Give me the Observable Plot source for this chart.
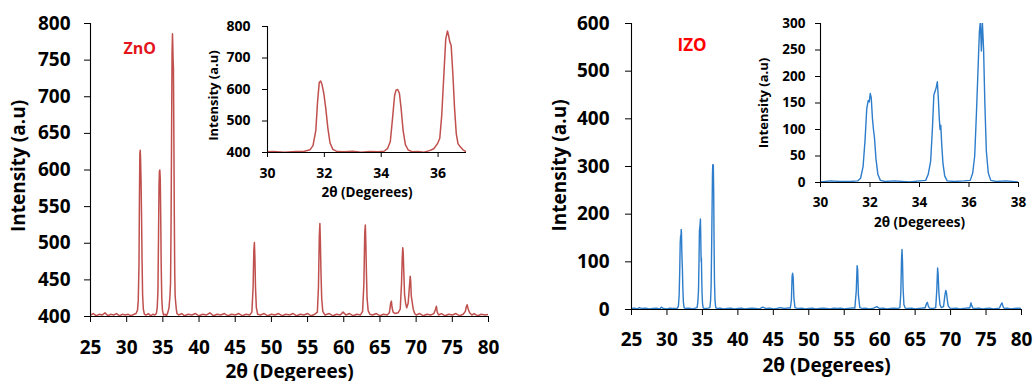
<!DOCTYPE html>
<html><head><meta charset="utf-8">
<script src="https://cdn.jsdelivr.net/npm/d3@7"></script>
<script src="https://cdn.jsdelivr.net/npm/@observablehq/plot@0.6"></script>
<style>
body{margin:0;background:#fff;}
#wrap{position:relative;width:1035px;height:381px;overflow:hidden;background:#fff;}
.panel{position:absolute;top:0;}
</style></head><body><div id="wrap"></div>
<script>
// ---- data: [2θ (deg), intensity (a.u.)] ----
const znoPattern = [[25,402],[25.4,404],[25.8,401],[26.2,403],[26.6,402],[27,405],[27.4,401],[27.8,403],[28.2,402],[28.6,404],[29,401],[29.4,403],[29.8,402],[30.2,403],[30.6,401],[31,403],[31.3,404],[31.5,409],[31.6,422],[31.7,470],[31.76,560],[31.82,622],[31.87,627],[31.92,615],[31.98,588],[32.05,540],[32.12,480],[32.2,430],[32.3,410],[32.45,403],[32.7,402],[33,404],[33.3,401],[33.6,403],[33.9,402],[34.1,404],[34.22,412],[34.32,435],[34.4,510],[34.47,580],[34.52,598],[34.58,600],[34.64,588],[34.7,540],[34.77,470],[34.85,425],[34.95,408],[35.1,402],[35.3,403],[35.5,401],[35.7,406],[35.85,412],[35.98,428],[36.06,445],[36.13,520],[36.2,640],[36.27,760],[36.33,786],[36.37,772],[36.41,752],[36.46,740],[36.52,650],[36.58,540],[36.64,460],[36.7,428],[36.78,418],[36.86,410],[36.95,404],[37.2,402],[37.6,404],[38,401],[38.5,403],[39,402],[39.5,404],[40,401],[40.5,403],[41,402],[41.5,405],[42,401],[42.5,403],[43,402],[43.5,404],[44,401],[44.5,403],[45,402],[45.5,404],[46,401],[46.5,403],[47,402],[47.3,406],[47.47,440],[47.57,490],[47.65,501],[47.72,480],[47.8,440],[47.92,412],[48.1,403],[48.5,402],[49,404],[49.5,401],[50,403],[50.5,402],[51,404],[51.5,401],[52,403],[52.5,402],[53,404],[53.5,401],[54,403],[54.5,402],[55,404],[55.5,401],[56,403],[56.35,406],[56.5,440],[56.62,510],[56.7,527],[56.76,505],[56.85,460],[56.95,425],[57.1,407],[57.4,402],[58,404],[58.5,401],[59,403],[59.5,402],[59.9,406],[60.3,402],[60.8,404],[61.3,401],[61.8,403],[62.3,402],[62.6,407],[62.78,445],[62.9,515],[62.98,525],[63.05,500],[63.13,460],[63.22,425],[63.37,408],[63.6,403],[64,402],[64.5,404],[65,401],[65.5,403],[66,402],[66.3,405],[66.48,418],[66.58,421],[66.68,412],[66.82,406],[67.1,404],[67.5,405],[67.8,410],[67.98,445],[68.08,480],[68.15,494],[68.21,488],[68.3,460],[68.4,430],[68.55,418],[68.7,412],[68.9,418],[69.05,438],[69.18,455],[69.25,448],[69.33,428],[69.45,420],[69.6,410],[69.8,404],[70,402],[70.5,404],[71,401],[71.5,403],[72,402],[72.45,404],[72.68,410],[72.8,414],[72.92,406],[73.1,402],[73.5,404],[74,401],[74.5,403],[75,402],[75.5,404],[76,401],[76.5,403],[76.8,407],[76.95,414],[77.05,416],[77.2,410],[77.4,405],[77.7,402],[78,404],[78.5,401],[79,403],[79.5,402],[80,403]];

const izoPattern = [[25,2],[25.4,3],[25.8,1],[26.1,4],[26.5,2],[27,3],[27.5,1],[28,2],[28.5,3],[29,1],[29.2,5],[29.5,2],[30,1],[30.4,3],[30.8,2],[31.2,2],[31.5,3],[31.62,8],[31.72,30],[31.8,80],[31.87,140],[31.93,155],[31.97,152],[32.01,168],[32.05,160],[32.1,120],[32.14,100],[32.18,85],[32.24,45],[32.32,15],[32.42,4],[32.6,2],[33,3],[33.3,2],[33.6,1],[34,3],[34.25,4],[34.35,15],[34.45,40],[34.52,100],[34.58,165],[34.63,172],[34.68,180],[34.72,190],[34.76,160],[34.8,120],[34.83,100],[34.86,108],[34.9,70],[34.95,35],[35.02,12],[35.12,3],[35.4,2],[35.8,3],[36.05,4],[36.15,18],[36.23,50],[36.3,130],[36.37,220],[36.42,285],[36.46,304],[36.5,248],[36.54,303],[36.59,250],[36.64,150],[36.7,60],[36.78,18],[36.88,4],[37.1,2],[37.5,3],[38,1],[38.5,2],[39,3],[39.5,1],[40,2],[40.5,3],[41,1],[41.5,2],[42,3],[42.5,2],[43,1],[43.5,5],[44,2],[44.5,3],[45,1],[45.5,2],[46,4],[46.5,2],[47,3],[47.4,3],[47.55,20],[47.65,70],[47.72,76],[47.8,68],[47.9,25],[48.05,4],[48.5,2],[49,3],[49.5,1],[50,2],[50.5,3],[51,1],[51.5,2],[52,3],[52.5,2],[53,1],[53.5,3],[54,2],[54.5,3],[55,1],[55.5,2],[56,3],[56.5,3],[56.7,40],[56.82,92],[56.9,82],[57,30],[57.2,4],[57.6,2],[58,3],[58.5,1],[59,2],[59.6,6],[60,2],[60.5,3],[61,1],[61.5,2],[62,3],[62.5,2],[62.85,4],[62.98,35],[63.08,105],[63.15,126],[63.22,100],[63.3,45],[63.42,10],[63.6,3],[64,2],[64.5,3],[65,1],[65.5,2],[66,3],[66.4,3],[66.6,12],[66.72,15],[66.85,8],[67,3],[67.5,2],[67.9,4],[68.05,40],[68.17,87],[68.25,72],[68.35,35],[68.5,10],[68.7,4],[69,6],[69.2,30],[69.32,40],[69.42,35],[69.52,22],[69.65,8],[69.9,3],[70.3,2],[70.8,3],[71.3,1],[71.8,2],[72.3,3],[72.7,3],[72.88,14],[72.98,8],[73.15,3],[73.6,2],[74,3],[74.5,1],[75,2],[75.5,3],[76,1],[76.5,2],[76.9,3],[77.12,11],[77.25,14],[77.4,6],[77.6,2],[78,3],[78.5,1],[79,2],[79.5,3],[80,2]];

const mainXTicks = [25,30,35,40,45,50,55,60,65,70,75,80];
const znoMainYTicks = [400,450,500,550,600,650,700,750,800];
const znoInsetXTicks = [30,32,34,36];
const znoInsetYTicks = [400,500,600,700,800];
const izoMainYTicks = [0,100,200,300,400,500,600];
const izoInsetXTicks = [30,32,34,36,38];
const izoInsetYTicks = [0,50,100,150,200,250,300];
const sampleNames = ["ZnO", "IZO"];
const xTitle = "2θ (Degerees)";
const yTitle = "Intensity (a.u)";

const FONT = "'Open Sans', 'Liberation Sans', sans-serif";
const fmt = d => String(d);

function chart(o) {
  const marks = [
    Plot.line(o.data, {x: d => d[0], y: d => d[1], stroke: o.color, strokeWidth: o.lw, clip: true}),
    Plot.ruleX([o.xDomain[0]], {stroke: "#000", strokeWidth: 1.1}),
    Plot.ruleY([o.yDomain[0]], {stroke: "#000", strokeWidth: 1.1}),
    Plot.axisX({ticks: o.xTicks, tickFormat: fmt, tickSize: o.tickSize, tickPadding: o.xPad, label: null, fontSize: o.tickFont, fontWeight: "bold", stroke: "#000"}),
    Plot.axisY({ticks: o.yTicks, tickFormat: fmt, tickSize: o.tickSize, tickPadding: o.yPad, label: null, fontSize: o.tickFont, fontWeight: "bold", stroke: "#000"}),
    Plot.text([xTitle], {frameAnchor: "bottom", lineAnchor: "middle", dy: o.xTitleDy, fontSize: o.xTitleFont, fontWeight: "bold", fill: "#000"}),
    Plot.text([yTitle], {frameAnchor: "left", textAnchor: "middle", lineAnchor: "middle", rotate: -90, dx: o.yTitleDx, dy: o.yTitleDy, fontSize: o.yTitleFont, fontWeight: "bold", fill: "#000"})
  ];
  if (o.name) {
    marks.push(Plot.text([o.name], {frameAnchor: "top-left", textAnchor: "start", lineAnchor: "middle", dx: o.nameDx, dy: o.nameDy, fontSize: o.nameFont, fontWeight: "bold", fill: o.nameColor}));
  }
  const svg = Plot.plot({
    width: o.width, height: o.height,
    marginLeft: o.m[0], marginRight: o.m[1], marginTop: o.m[2], marginBottom: o.m[3],
    x: {domain: o.xDomain},
    y: {domain: o.yDomain},
    style: {fontFamily: FONT, fontWeight: "bold", background: "transparent", overflow: "visible", color: "#000"},
    marks
  });
  const div = document.createElement("div");
  div.className = "panel";
  div.style.left = o.left + "px";
  div.appendChild(svg);
  document.getElementById("wrap").appendChild(div);
}

// ZnO main
chart({data: znoPattern, color: "#C0504D", lw: 1.5, xDomain: [25, 80], yDomain: [400, 800],
  xTicks: mainXTicks, yTicks: znoMainYTicks, left: 0, width: 500, height: 381, m: [90, 12, 23, 65],
  tickSize: 6, xPad: 18, yPad: 14, tickFont: 19, xTitleFont: 19, yTitleFont: 19,
  xTitleDy: 55, yTitleDx: -72, yTitleDy: -4,
  name: sampleNames[0], nameColor: "#E3141C", nameFont: 16, nameDx: 33, nameDy: 25});
// ZnO inset
chart({data: znoPattern, color: "#C0504D", lw: 1.5, xDomain: [30, 37], yDomain: [400, 800],
  xTicks: znoInsetXTicks, yTicks: znoInsetYTicks, left: 190, width: 290, height: 210, m: [77, 14, 26, 58],
  tickSize: 5, xPad: 11, yPad: 12, tickFont: 14, xTitleFont: 13.5, yTitleFont: 13,
  xTitleDy: 40, yTitleDx: -54, yTitleDy: 6});
// IZO main
chart({data: izoPattern, color: "#2D7DCB", lw: 1.4, xDomain: [25, 80], yDomain: [0, 600],
  xTicks: mainXTicks, yTicks: izoMainYTicks, left: 540, width: 495, height: 381, m: [91, 14, 23, 72],
  tickSize: 6, xPad: 17, yPad: 16, tickFont: 19, xTitleFont: 19, yTitleFont: 19,
  xTitleDy: 56, yTitleDx: -72, yTitleDy: -1,
  name: sampleNames[1], nameColor: "#FF0000", nameFont: 17, nameDx: 46, nameDy: 22});
// IZO inset
chart({data: izoPattern, color: "#2D7DCB", lw: 1.4, xDomain: [30, 38], yDomain: [0, 300],
  xTicks: izoInsetXTicks, yTicks: izoInsetYTicks, left: 740, width: 295, height: 240, m: [80, 17, 23, 58],
  tickSize: 5, xPad: 10, yPad: 10, tickFont: 13.5, xTitleFont: 13.5, yTitleFont: 13,
  xTitleDy: 40, yTitleDx: -57, yTitleDy: 0});
</script></body></html>
